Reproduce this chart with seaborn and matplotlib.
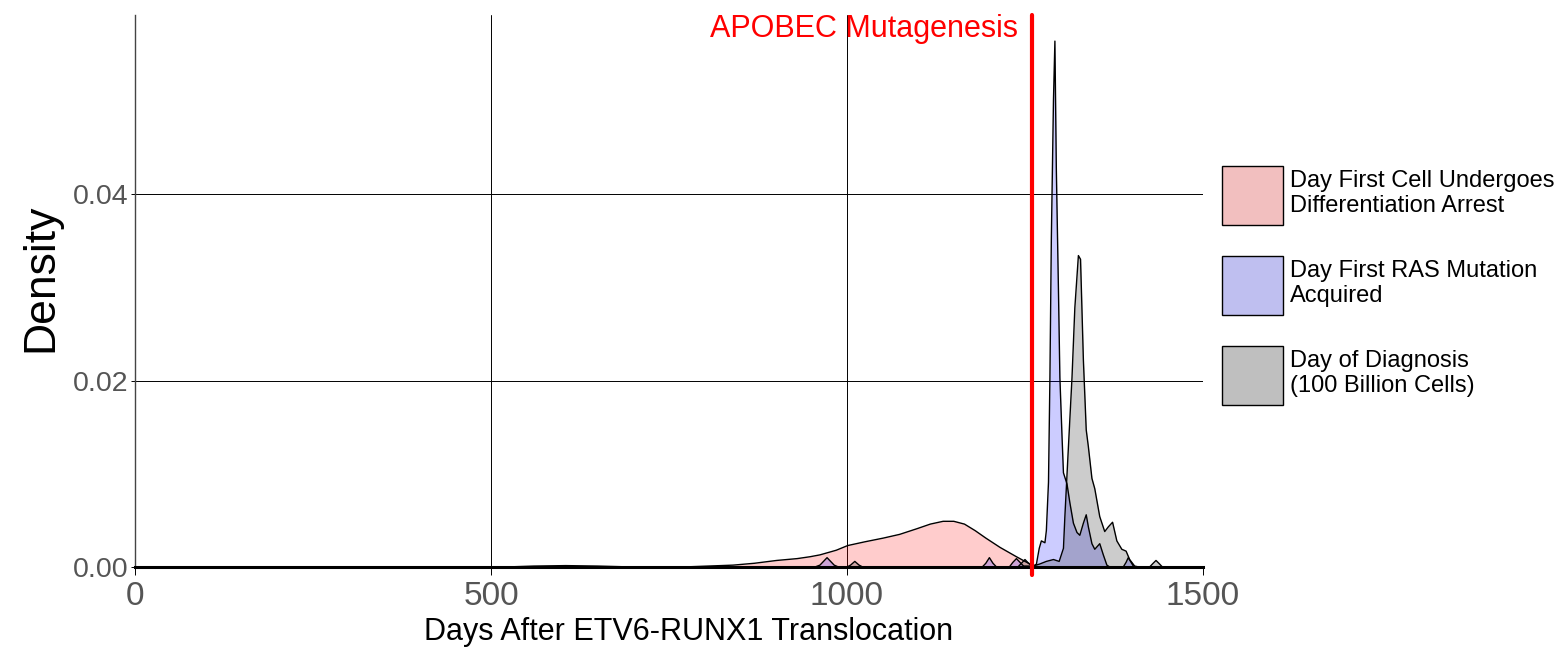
import matplotlib
matplotlib.use("Agg")
import matplotlib.pyplot as plt
from matplotlib.patches import Patch
import seaborn as sns

# ---------------- data ----------------
arrest_days = [0, 520, 560, 605, 650, 700, 780, 840, 870, 901, 930, 948, 962,
               985, 1001, 1025, 1051, 1074, 1098, 1117, 1135, 1150, 1165, 1180,
               1195, 1215, 1238, 1250, 1260, 1270, 1500]
arrest_density = [0, 0, 0.0001, 0.00015, 0.0001, 0, 0.00003, 0.0002, 0.0004,
                  0.0007, 0.0009, 0.0011, 0.0013, 0.0018, 0.0023, 0.0027,
                  0.0031, 0.0035, 0.0041, 0.0046, 0.0049, 0.0049, 0.0046,
                  0.0039, 0.0031, 0.0021, 0.0011, 0.0006, 0.0002, 0, 0]

ras_days = [0, 955, 962, 967, 972, 977, 982, 988,
            1190, 1195, 1200, 1205, 1210,
            1228, 1233, 1238, 1243, 1248, 1262,
            1266, 1270, 1273, 1278, 1280, 1283, 1285, 1287, 1290, 1292, 1294,
            1297, 1299, 1302, 1304, 1309, 1313, 1318, 1323, 1327, 1332, 1336,
            1339, 1344, 1348, 1355, 1360, 1365, 1369,
            1388, 1392, 1395, 1399, 1403, 1500]
ras_density = [0, 0, 0.0002, 0.0006, 0.0010, 0.0006, 0.0002, 0,
               0, 0.0004, 0.0010, 0.0004, 0,
               0, 0.0005, 0.0009, 0.0005, 0.0001, 0.0001,
               0.0003, 0.0020, 0.0028, 0.0026, 0.0039, 0.0091, 0.0203, 0.0352,
               0.0501, 0.0564, 0.0427,
               0.0296, 0.0203, 0.0140, 0.0101, 0.0089, 0.0069, 0.0047, 0.0037,
               0.0034, 0.0047, 0.0056,
               0.0043, 0.0025, 0.0019, 0.0025, 0.0013, 0.0002, 0,
               0, 0.0005, 0.0010, 0.0005, 0, 0]

diag_days = [0, 1000, 1005, 1011, 1017, 1022,
             1240, 1245, 1250, 1255, 1260, 1270, 1280, 1290, 1298, 1304, 1306,
             1311, 1316, 1320, 1325, 1328, 1332, 1336, 1339, 1344, 1348, 1355,
             1362, 1367, 1373, 1379, 1386, 1392, 1397, 1404, 1410,
             1425, 1430, 1434, 1438, 1443, 1500]
diag_density = [0, 0, 0.0002, 0.0006, 0.0002, 0,
                0, 0.0004, 0.0008, 0.0004, 0.0001, 0.0003, 0.0006, 0.0008,
                0.0006, 0.0020, 0.0054,
                0.0129, 0.0203, 0.0278, 0.0334, 0.0330, 0.0222, 0.0147, 0.0129,
                0.0095, 0.0084, 0.0054,
                0.0038, 0.0043, 0.0048, 0.0028, 0.0019, 0.0017, 0.0008, 0.0001, 0,
                0, 0.0004, 0.0007, 0.0004, 0, 0]

series_labels = ["Day First Cell Undergoes\nDifferentiation Arrest",
                 "Day First RAS Mutation\nAcquired",
                 "Day of Diagnosis\n(100 Billion Cells)"]
apobec_day = 1260
apobec_label = "APOBEC Mutagenesis"
x_ticks = [0, 500, 1000, 1500]
y_ticks = [0.00, 0.02, 0.04]
y_tick_labels = ["0.00", "0.02", "0.04"]

# ---------------- style ----------------
sns.set_style("white")
plt.rcParams["font.family"] = ["Liberation Sans", "DejaVu Sans"]
plt.rcParams["text.color"] = "black"

fig = plt.figure(figsize=(15.63, 6.5), dpi=100)
ax = fig.add_axes([135 / 1563, 83 / 650, (1203 - 135) / 1563, (567 - 15) / 650])

fill_colors = [(1, 0, 0, 0.2), (0, 0, 1, 0.2), (0, 0, 0, 0.2)]
legend_colors = [(0.95, 0.75, 0.75), (0.75, 0.75, 0.94), (0.75, 0.75, 0.75)]
curves = [(arrest_days, arrest_density),
          (ras_days, ras_density),
          (diag_days, diag_density)]

for (xs, ys), fc in zip(curves, fill_colors):
    ax.fill_between(xs, 0, ys, color=fc, linewidth=0, zorder=2)
    sns.lineplot(x=xs, y=ys, color="black", linewidth=1.0, sort=False,
                 estimator=None, ax=ax, zorder=3)

ax.set_xlim(0, 1500)
ax.set_ylim(0, 0.0592)
ax.set_xticks(x_ticks)
ax.set_xticklabels([str(t) for t in x_ticks])
ax.set_yticks(y_ticks)
ax.set_yticklabels(y_tick_labels)

ax.grid(True, color="black", linewidth=0.7, zorder=1)
ax.set_axisbelow(True)

ax.spines["top"].set_visible(False)
ax.spines["right"].set_visible(False)
ax.spines["left"].set_color("#444444")
ax.spines["left"].set_linewidth(1.0)
ax.spines["bottom"].set_color("black")
ax.spines["bottom"].set_linewidth(2.2)
ax.spines["bottom"].set_zorder(5)

ax.tick_params(axis="x", length=6, width=0.7, color="black", labelsize=24,
               labelcolor="#555555", pad=4, bottom=True)
ax.tick_params(axis="y", length=3, width=0.7, color="black", labelsize=20.5,
               labelcolor="#555555", pad=2, left=True)

ax.set_xlabel("Days After ETV6-RUNX1 Translocation", fontsize=22,
              color="black", labelpad=4, x=(688.5 - 135) / 1068)
ax.set_ylabel("Density", fontsize=32, color="black", labelpad=8,
              y=(567 - 278) / 552)

# APOBEC line
ax.axvline(apobec_day, ymin=-0.015, ymax=1, color="red", linewidth=3,
           clip_on=False, zorder=6)
ax.text(apobec_day - 20, 0.0568, apobec_label, color="red", fontsize=22,
        ha="right", va="baseline")

# legend
handles = [Patch(facecolor=c, edgecolor="black", linewidth=1.0)
           for c in legend_colors]
leg = fig.legend(handles, series_labels, loc="upper left",
                 bbox_to_anchor=(1222 / 1563, 1 - 166 / 650),
                 frameon=False, fontsize=17, handlelength=2.58,
                 handleheight=3.46, handletextpad=0.3, labelspacing=1.31,
                 borderpad=0, borderaxespad=0)
for t in leg.get_texts():
    t.set_color("black")

fig.savefig("out.png", dpi=100)
